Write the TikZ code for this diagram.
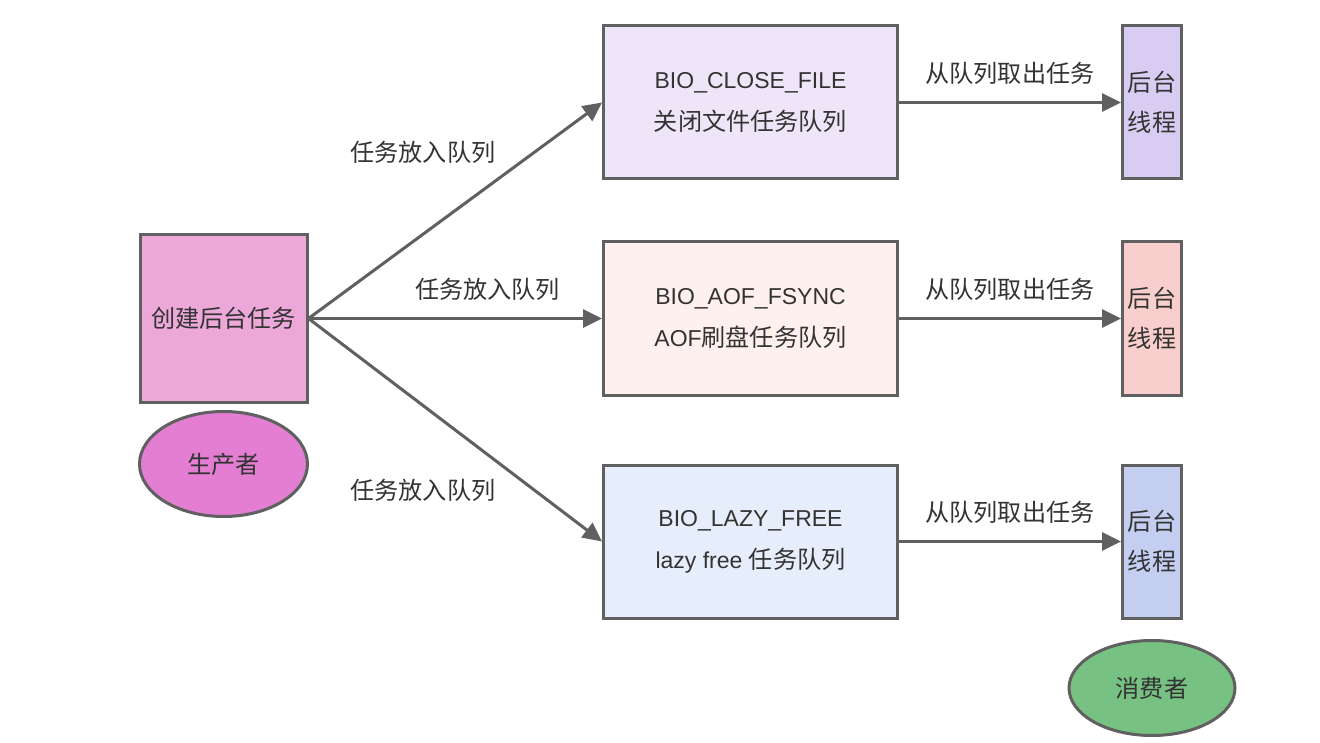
\documentclass[tikz,border=0pt]{standalone}
\usepackage{fontspec}
\setmainfont{Liberation Sans}
\newfontfamily\cjk[Scale=1.05]{Noto Sans CJK SC}
\usetikzlibrary{arrows.meta,shapes.geometric}
\definecolor{edge}{HTML}{606060}
\definecolor{txt}{HTML}{333333}
\definecolor{cLeft}{HTML}{EBA8D8}
\definecolor{cProd}{HTML}{E37ED2}
\definecolor{cBoxA}{HTML}{EEE6F8}
\definecolor{cThA}{HTML}{D9CCF2}
\definecolor{cBoxB}{HTML}{FEF0EC}
\definecolor{cThB}{HTML}{F8CFCC}
\definecolor{cBoxC}{HTML}{E6EEFB}
\definecolor{cThC}{HTML}{C4CEF0}
\definecolor{cCons}{HTML}{77C282}
\begin{document}
\begin{tikzpicture}[x=1pt,y=-1pt,
  every node/.style={font=\fontsize{23}{42}\selectfont, text=txt, inner sep=0pt},
  box/.style={draw=edge, line width=3pt, rectangle, align=center},
  queue/.style={box, minimum width=294pt, minimum height=153pt},
  thread/.style={box, minimum width=59pt, minimum height=153pt},
  oval/.style={draw=edge, line width=3pt, ellipse},
  conn/.style={draw=edge, line width=3pt, -{Triangle[length=19pt,width=18pt]}},
  lbl/.style={fill=none}
]
\useasboundingbox (0,0) rectangle (1320,743);
\fill[white] (0,0) rectangle (1320,743);
\node[box, fill=cLeft, minimum width=167pt, minimum height=167pt] (src) at (223.5,318.5) {\cjk 创建后台任务};
\node[oval, fill=cProd, minimum width=168pt, minimum height=105pt] (prod) at (223.5,464) {\cjk 生产者};

\node[queue, fill=cBoxA] (qa) at (750.5,102.5) {BIO\_CLOSE\_FILE\\{\cjk 关闭文件任务队列}};
\node[queue, fill=cBoxB] (qb) at (750.5,318.5) {BIO\_AOF\_FSYNC\\AOF{\cjk 刷盘任务队列}};
\node[queue, fill=cBoxC] (qc) at (750.5,541.5) {BIO\_LAZY\_FREE\\lazy free {\cjk 任务队列}};

\node[thread, fill=cThA] (ta) at (1152,102.5) {\cjk 后台\\[-2pt]\cjk 线程};
\node[thread, fill=cThB] (tb) at (1152,318.5) {\cjk 后台\\[-2pt]\cjk 线程};
\node[thread, fill=cThC] (tc) at (1152,541.5) {\cjk 后台\\[-2pt]\cjk 线程};

\node[oval, fill=cCons, minimum width=166pt, minimum height=95pt] (cons) at (1152,688) {\cjk 消费者};

\draw[conn] (src.east) -- (qa.west) node[lbl, pos=0.39, yshift=82pt] {\cjk 任务放入队列};
\draw[conn] (src.east) -- (qb.west) node[lbl, pos=0.61, yshift=29pt] {\cjk 任务放入队列};
\draw[conn] (src.east) -- (qc.west) node[lbl, pos=0.39, yshift=-85pt] {\cjk 任务放入队列};

\draw[conn] (qa.east) -- (ta.west) node[lbl, midway, yshift=29pt] {\cjk 从队列取出任务};
\draw[conn] (qb.east) -- (tb.west) node[lbl, midway, yshift=29pt] {\cjk 从队列取出任务};
\draw[conn] (qc.east) -- (tc.west) node[lbl, midway, yshift=29pt] {\cjk 从队列取出任务};
\end{tikzpicture}
\end{document}
